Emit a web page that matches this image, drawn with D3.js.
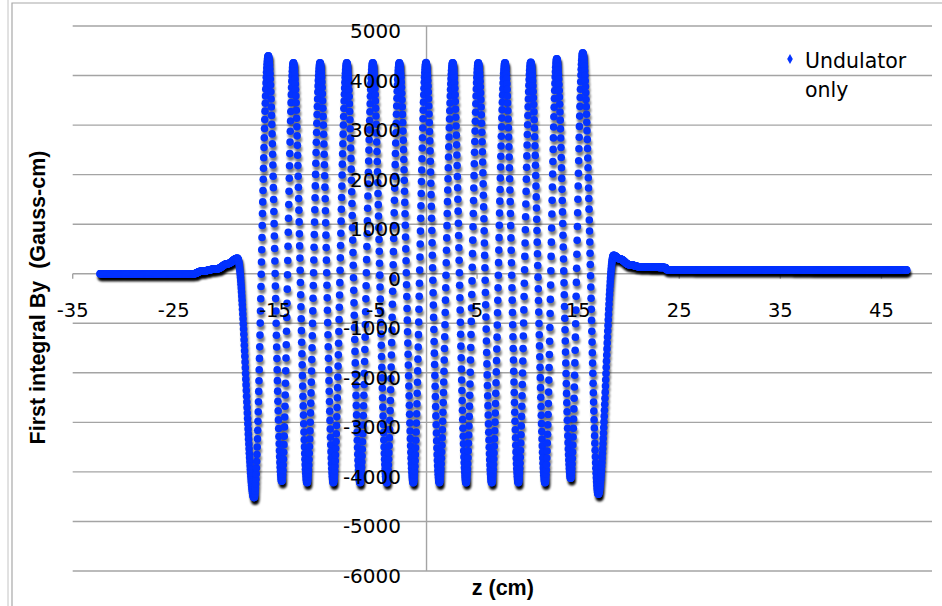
<!DOCTYPE html>
<html><head><meta charset="utf-8">
<script src="https://cdn.jsdelivr.net/npm/d3@7"></script>
<style>html,body{margin:0;padding:0;background:#fff;} svg{display:block;}</style>
</head><body>
<svg id="chart" width="942" height="606"></svg>
<script>
// ---- Data ----
// z in cm, first integral By in Gauss-cm
// Entry region (flat part before the undulator)
const entryZ  = [-32.3, -23.0, -22.3, -20.7, -19.7];
const entryBy = [0, 0, 50, 100, 200];
// Successive extrema of the oscillation (entry pole peak ... exit pole peak)
const extremaZ  = [-18.7, -17.06, -15.65, -14.32, -13.17, -11.82, -10.53, -9.22, -7.89, -6.58,
                   -5.32, -3.94, -2.69, -1.31, -0.05, 1.27, 2.59, 3.91, 5.12, 6.45,
                   7.76, 9.08, 10.31, 11.72, 12.88, 14.26, 15.45, 16.99, 18.5];
const extremaBy = [310, -4520, 4400, -4190, 4260, -4220, 4260, -4220, 4260, -4220,
                   4260, -4220, 4260, -4220, 4260, -4220, 4260, -4220, 4260, -4220,
                   4260, -4220, 4270, -4220, 4340, -4130, 4460, -4450, 370];
// Exit region (decay and flat tail)
const exitZ  = [19.1, 20.1, 21.1, 23.6, 23.8, 47.5];
const exitBy = [300, 180, 140, 127, 80, 72];
// Measurement step along z (from dot spacing)
const sampleStep = 0.025;

const xTickValues = [-35, -25, -15, -5, 5, 15, 25, 35, 45];
const yTickValues = [5000, 4000, 3000, 2000, 1000, 0, -1000, -2000, -3000, -4000, -5000, -6000];
const legendLines = ["Undulator", "only"];
const xTitle = "z (cm)";
const yTitle = "First integral By  (Gauss-cm)";

// ---- Build the sampled series from the read anchors ----
const anchorZ  = entryZ.concat(extremaZ, exitZ);
const anchorBy = entryBy.concat(extremaBy, exitBy);
const nSamples = Math.round((anchorZ[anchorZ.length-1] - anchorZ[0]) / sampleStep);
const series = [];
let seg = 0;
for (let i = 0; i <= nSamples; i++) {
  const z = anchorZ[0] + i * sampleStep;
  while (seg < anchorZ.length - 2 && z > anchorZ[seg+1]) seg++;
  const t = Math.max(0, Math.min(1, (z - anchorZ[seg]) / (anchorZ[seg+1] - anchorZ[seg])));
  const v = d3.interpolateNumber(anchorBy[seg], anchorBy[seg+1])(d3.easeSinInOut(t));
  series.push({z: z, by: v});
}

// ---- Drawing ----
const svg = d3.select("#chart");
const W = 942, H = 606;
const x = d3.scaleLinear().domain([-35, 50]).range([72.7, 932]);
const y = d3.scaleLinear().domain([-6000, 5000]).range([571, 26]);
const gridColor = "#a4a4a4";
const dotColor = "#0433ff";
const R = 3.8;

const defs = svg.append("defs");
defs.append("filter").attr("id", "shblur").attr("filterUnits", "userSpaceOnUse")
  .attr("x", 0).attr("y", 0).attr("width", W).attr("height", H)
  .append("feGaussianBlur").attr("stdDeviation", 0.8);

// frame
svg.append("line").attr("x1", 8).attr("x2", 8).attr("y1", 0).attr("y2", H)
  .attr("stroke", "#c4c4c4").attr("stroke-width", 1);
svg.append("path").attr("d", `M12,${H} L12,3 L${W},3`).attr("fill", "none")
  .attr("stroke", "#a8a8a8").attr("stroke-width", 1.2);

// gridlines
svg.append("g").selectAll("line").data(yTickValues).join("line")
  .attr("x1", x(-35)).attr("x2", x(50))
  .attr("y1", d => y(d)).attr("y2", d => y(d))
  .attr("stroke", gridColor).attr("stroke-width", 1.4);

// y axis line
svg.append("line").attr("x1", x(0)).attr("x2", x(0)).attr("y1", y(5000)).attr("y2", y(-6000))
  .attr("stroke", gridColor).attr("stroke-width", 1.4);

// x ticks on the zero line
svg.append("g").selectAll("line").data(xTickValues).join("line")
  .attr("x1", d => x(d)).attr("x2", d => x(d))
  .attr("y1", y(0)).attr("y2", y(0) + 5)
  .attr("stroke", gridColor).attr("stroke-width", 1.4);

// shadows
svg.append("g").attr("filter", "url(#shblur)")
  .selectAll("circle").data(series).join("circle")
  .attr("cx", d => x(d.z) + 1.2).attr("cy", d => y(d.by) + 3.6)
  .attr("r", R).attr("fill", "#000").attr("fill-opacity", 0.5);

// points
svg.append("g").selectAll("circle").data(series).join("circle")
  .attr("cx", d => x(d.z)).attr("cy", d => y(d.by))
  .attr("r", R).attr("fill", dotColor);

// tick labels
const font = "DejaVu Sans, Verdana, sans-serif";
svg.append("g").selectAll("text").data(yTickValues).join("text")
  .attr("x", 401).attr("y", d => y(d) + 12)
  .attr("text-anchor", "end").attr("font-family", font).attr("font-size", 20)
  .attr("fill", "#000").text(d => d);
svg.append("g").selectAll("text").data(xTickValues).join("text")
  .attr("x", d => x(d)).attr("y", 316.5)
  .attr("text-anchor", "middle").attr("font-family", font).attr("font-size", 19.5)
  .attr("fill", "#000").text(d => d);

// axis titles
const bold = "Liberation Sans, Arial, sans-serif";
svg.append("text").attr("x", (x(-35) + x(50)) / 2 + 0.5).attr("y", 595)
  .attr("text-anchor", "middle").attr("font-family", bold).attr("font-weight", "bold")
  .attr("font-size", 21.5).attr("fill", "#000").text(xTitle);
svg.append("text").attr("transform", "translate(45,297.5) rotate(-90)")
  .attr("text-anchor", "middle").attr("font-family", bold).attr("font-weight", "bold")
  .attr("font-size", 21.5).attr("fill", "#000").style("white-space", "pre").text(yTitle);

// legend
svg.append("path").attr("d", d3.symbol(d3.symbolDiamond, 28)())
  .attr("transform", "translate(790,59)").attr("fill", dotColor);
svg.append("g").selectAll("text").data(legendLines).join("text")
  .attr("x", 805).attr("y", (d, i) => 68 + i * 29)
  .attr("font-family", font).attr("font-size", 20.5).attr("fill", "#000").text(d => d);
</script>
</body></html>
